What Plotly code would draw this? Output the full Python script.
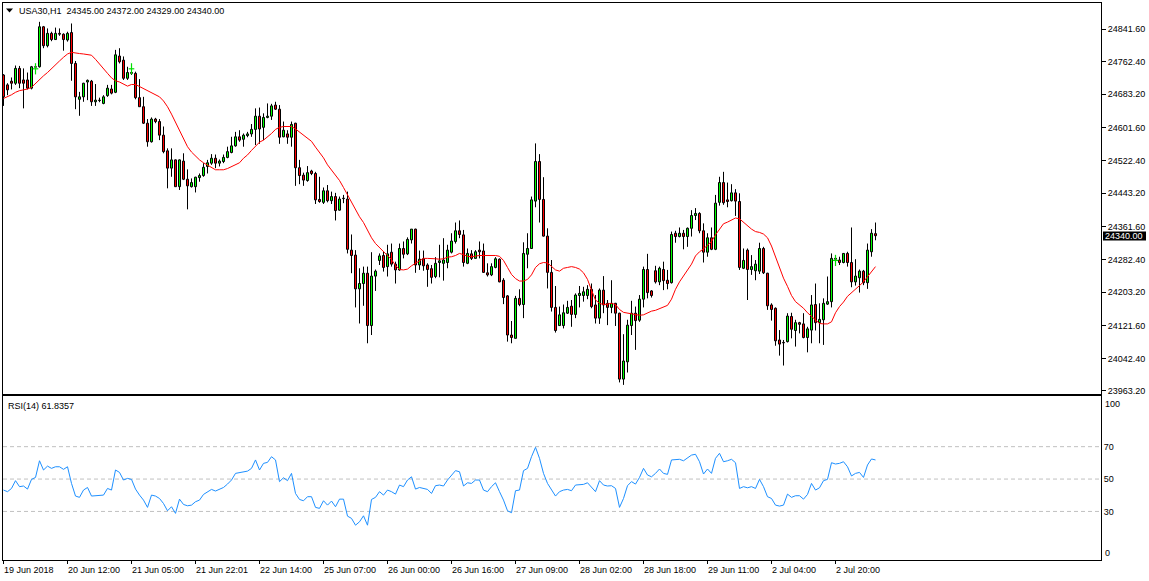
import plotly.graph_objects as go

# ---------------- data (USA30, H1) ----------------
tick_labels = ["19 Jun 2018", "20 Jun 12:00", "21 Jun 05:00", "21 Jun 22:01", "22 Jun 14:00",
               "25 Jun 07:00", "26 Jun 00:00", "26 Jun 16:00", "27 Jun 09:00", "28 Jun 02:00",
               "28 Jun 18:00", "29 Jun 11:00", "2 Jul 04:00", "2 Jul 20:00"]
tick_bars = [0, 16, 32, 48, 64, 80, 96, 112, 128, 144, 160, 176, 192, 208]

opens = [24730,24706,24715,24710,24746,24718,24718,24698,24750,24750,
         24847,24801,24831,24816,24831,24829,24815,24833,24758,24671,
         24677,24713,24715,24665,24669,24661,24680,24696,24688,24776,
         24766,24722,24736,24734,24675,24653,24613,24568,24623,24617,
         24584,24546,24504,24524,24459,24521,24477,24459,24459,24481,
         24486,24508,24516,24528,24516,24520,24530,24542,24558,24580,
         24574,24583,24587,24598,24630,24603,24627,24630,24657,24647,
         24580,24587,24579,24613,24505,24487,24474,24497,24491,24428,
         24421,24449,24425,24435,24402,24431,24429,24305,24293,24211,
         24224,24249,24122,24242,24280,24292,24265,24300,24271,24257,
         24309,24296,24330,24356,24269,24284,24269,24260,24241,24275,
         24273,24275,24300,24326,24352,24342,24273,24296,24285,24305,
         24303,24250,24245,24263,24283,24232,24194,24099,24091,24188,
         24173,24295,24309,24424,24520,24428,24339,24251,24166,24122,
         24122,24152,24169,24149,24195,24195,24195,24210,24172,24140,
         24208,24176,24166,24176,24152,23992,24034,24122,24152,24135,
         24186,24258,24206,24255,24228,24258,24232,24226,24346,24338,
         24346,24338,24358,24389,24394,24352,24300,24335,24307,24421,
         24469,24427,24425,24444,24423,24261,24305,24258,24255,24254,
         24309,24249,24172,24164,24087,24081,24083,24144,24110,24129,
         24126,24093,24111,24173,24129,24136,24174,24180,24285,24281,
         24275,24297,24275,24228,24238,24254,24226,24301,24345]
highs = [24732,24710,24724,24753,24752,24746,24736,24752,24754,24859,
         24849,24843,24835,24845,24843,24831,24835,24855,24764,24689,
         24711,24719,24718,24708,24675,24681,24706,24706,24791,24795,
         24775,24750,24741,24738,24720,24677,24623,24627,24626,24623,
         24605,24552,24552,24525,24525,24540,24501,24479,24483,24491,
         24516,24524,24538,24537,24525,24537,24556,24580,24592,24596,
         24588,24592,24611,24649,24651,24637,24661,24660,24665,24657,
         24617,24596,24617,24614,24524,24493,24509,24500,24495,24483,
         24457,24463,24447,24444,24435,24439,24447,24343,24305,24261,
         24265,24265,24300,24258,24297,24301,24318,24321,24277,24321,
         24326,24336,24356,24357,24304,24304,24273,24269,24288,24318,
         24334,24318,24346,24372,24377,24354,24309,24305,24305,24326,
         24321,24273,24273,24288,24285,24237,24196,24133,24194,24210,
         24324,24346,24435,24564,24538,24482,24358,24281,24218,24168,
         24173,24182,24184,24200,24218,24216,24220,24224,24196,24212,
         24242,24184,24232,24177,24153,24101,24136,24182,24168,24196,
         24265,24296,24208,24267,24265,24277,24257,24350,24352,24360,
         24354,24360,24402,24407,24397,24370,24346,24360,24439,24483,
         24495,24469,24465,24453,24443,24309,24309,24293,24281,24323,
         24313,24250,24176,24166,24111,24087,24152,24153,24136,24131,
         24152,24119,24196,24224,24176,24188,24241,24297,24291,24289,
         24298,24301,24360,24283,24258,24257,24321,24356,24372]
lows = [24655,24681,24695,24706,24698,24649,24695,24695,24742,24748,
        24795,24797,24812,24815,24825,24789,24811,24716,24647,24631,
        24665,24669,24655,24655,24664,24659,24677,24683,24686,24758,
        24718,24718,24730,24671,24653,24611,24556,24566,24613,24572,
        24540,24455,24483,24459,24451,24475,24404,24457,24445,24471,
        24483,24491,24512,24504,24508,24516,24528,24540,24556,24568,
        24556,24579,24580,24560,24563,24572,24625,24621,24645,24563,
        24579,24563,24556,24461,24465,24461,24471,24487,24417,24420,
        24417,24421,24417,24377,24401,24419,24297,24249,24166,24127,
        24170,24079,24099,24206,24269,24253,24241,24265,24224,24255,
        24285,24293,24321,24250,24257,24255,24216,24224,24237,24239,
        24231,24261,24297,24321,24334,24265,24271,24281,24284,24285,
        24250,24241,24242,24261,24227,24174,24083,24079,24091,24169,
        24140,24261,24308,24409,24372,24338,24212,24156,24105,24121,
        24115,24150,24119,24140,24166,24180,24186,24164,24127,24126,
        24152,24123,24152,24121,23984,23978,24008,24099,24063,24131,
        24166,24188,24190,24224,24220,24208,24210,24224,24323,24336,
        24307,24313,24338,24378,24346,24275,24289,24305,24305,24413,
        24415,24409,24423,24388,24257,24259,24184,24245,24232,24247,
        24247,24160,24134,24073,24049,24025,24081,24091,24071,24103,
        24091,24057,24079,24110,24079,24075,24172,24166,24271,24269,
        24273,24265,24215,24219,24202,24220,24211,24289,24329]
closes = [24677,24694,24710,24746,24710,24710,24698,24750,24749,24847,
          24801,24831,24816,24831,24829,24816,24831,24758,24677,24677,
          24710,24717,24665,24669,24668,24677,24698,24686,24779,24762,
          24722,24736,24734,24675,24653,24613,24568,24623,24617,24584,
          24544,24504,24524,24459,24524,24477,24461,24469,24482,24486,
          24506,24517,24528,24516,24521,24530,24544,24558,24580,24572,
          24584,24587,24598,24630,24599,24627,24630,24655,24647,24579,
          24596,24579,24610,24505,24486,24475,24493,24491,24427,24423,
          24449,24425,24435,24401,24429,24430,24307,24292,24211,24224,
          24249,24122,24242,24254,24291,24263,24296,24271,24257,24309,
          24295,24331,24356,24269,24283,24267,24258,24239,24273,24279,
          24281,24305,24327,24352,24343,24275,24297,24285,24301,24301,
          24251,24245,24265,24284,24228,24190,24099,24093,24188,24173,
          24297,24309,24427,24520,24428,24339,24251,24166,24110,24148,
          24153,24166,24149,24196,24200,24204,24210,24168,24140,24208,
          24172,24166,24176,24152,23992,24036,24123,24152,24134,24186,
          24258,24202,24195,24228,24261,24231,24224,24343,24338,24346,
          24338,24358,24389,24394,24352,24300,24335,24307,24419,24469,
          24420,24423,24444,24424,24263,24280,24258,24265,24271,24309,
          24250,24170,24161,24085,24077,24080,24145,24113,24129,24125,
          24093,24114,24172,24129,24137,24176,24180,24285,24283,24275,
          24297,24275,24228,24242,24254,24226,24305,24346,24340]
ma14 = [24673,24677,24682,24688,24692,24694,24696,24700,24710,24720,
        24728,24736,24746,24754,24764,24773,24781,24785,24783,24782,
        24781,24780,24778,24768,24756,24745,24734,24723,24716,24713,
        24707,24703,24707,24707,24702,24697,24691,
        24688,24683,24677,24667,24653,24635,24616,24596,24576,24556,
        24543,24533,24524,24517,24511,24504,24500,24500,24500,24503,
        24508,24513,24517,24528,24536,24547,24558,24567,24572,24579,
        24588,24598,24603,24605,24605,
        24605,24599,24592,24584,24577,24569,24555,24542,24529,24512,
        24500,24486,24474,24457,24439,24420,24402,24386,24372,24352,
        24335,24321,24311,24301,24292,24282,24268,24258,24257,24259,
        24267,24273,24280,24285,24285,
        24285,24284,24283,24284,24288,24289,24292,24297,24294,24290,
        24289,24291,24292,24292,24292,24292,24292,24290,24280,24263,
        24246,24236,24230,24230,24234,24245,24263,24272,24275,24274,
        24266,24257,24254,24261,24263,
        24265,24263,24259,24250,24234,24208,24184,24176,24173,24174,
        24176,24173,24161,24154,24152,24150,24148,24147,24148,24153,
        24157,24159,24163,24168,24171,24186,24210,24228,24242,24255,
        24271,24291,24301,24308,24318,
        24326,24342,24357,24369,24373,24378,24383,24381,24372,24363,
        24356,24350,24348,24344,24335,24315,24289,24263,24237,24217,
        24195,24180,24172,24164,24153,24144,24134,24127,24126,24126,
        24131,
        24153,24168,24179,24193,24201,24210,24219,24228,24241,24253,24265]
rsi14 = [43.2,42.2,44.2,49.0,45.3,45.7,43.8,49.8,51.0,61.3,
         55.6,58.0,56.6,57.6,57.6,56.0,57.6,47.3,39.5,38.7,
         43.2,44.8,39.5,39.7,39.7,40.1,44.2,43.2,55.6,54.1,
         49.4,50.4,49.8,43.8,40.1,37.0,32.5,40.1,39.5,38.0,
         34.9,30.4,32.9,28.8,37.6,34.3,33.5,33.9,36.0,37.0,
         40.5,42.2,43.6,42.6,43.8,44.8,46.9,49.4,53.5,53.9,
         54.3,54.9,56.6,61.8,55.6,59.7,60.3,63.8,61.8,48.4,
         50.8,49.0,53.5,41.1,37.4,36.6,39.1,39.1,32.5,31.9,
         36.6,33.9,36.4,32.9,37.6,37.6,27.1,25.7,21.5,23.6,
         27.3,21.5,37.4,38.7,42.2,40.1,43.2,42.2,40.7,46.3,
         45.3,49.4,51.4,43.8,44.8,44.2,43.6,41.1,45.9,46.3,
         45.7,49.4,52.5,55.2,54.5,45.7,47.7,47.3,49.4,49.4,
         43.2,42.2,45.3,47.7,42.2,37.0,30.4,29.2,42.8,43.2,
         55.2,56.6,63.8,69.6,62.8,53.5,47.3,43.2,39.5,42.2,
         43.2,43.6,42.8,46.3,46.7,46.7,47.7,44.8,42.2,49.0,
         46.3,45.7,45.9,44.2,32.5,38.0,45.9,48.4,46.9,51.0,
         56.6,52.5,51.4,53.5,56.2,53.5,52.9,61.8,61.8,62.2,
         61.3,62.8,64.8,65.3,60.7,53.1,56.2,53.5,62.8,65.9,
         60.7,61.3,62.2,60.1,44.2,45.3,44.6,45.3,44.2,49.8,
         45.3,39.1,38.0,33.9,33.3,33.9,40.7,38.7,39.7,39.7,
         37.6,40.5,47.3,43.2,44.6,49.0,49.8,60.1,59.3,59.7,
         60.7,57.6,51.9,53.5,54.1,51.0,58.7,62.4,61.8]
trade_bars = [8, 32, 208]
trade_prices = [24745, 24745, 24280]
price_ticks = [24841.6, 24762.4, 24683.2, 24601.6, 24522.4, 24443.2,
               24361.6, 24282.4, 24203.2, 24121.6, 24042.4, 23963.2]
rsi_levels = [30, 50, 70]
last_price = 24340.00

bars = list(range(len(closes)))

# candle geometry built from the OHLC arrays
body_lo = [min(o, c) for o, c in zip(opens, closes)]
body_hi = [max(o, c) for o, c in zip(opens, closes)]
body_h = [max(h - l, 1) for h, l in zip(body_hi, body_lo)]
body_col = ["#00ff00" if c > o else "#ff0000" for o, c in zip(opens, closes)]
wick_x, wick_y = [], []
for i, h, l, bh, bl in zip(bars, highs, lows, body_hi, body_lo):
    wick_x += [i, i, None, i, i, None]
    wick_y += [h, bh, None, bl, l, None]

# ---------------- geometry ----------------
W, H = 1149, 581
ML, MR, MT, MB = 3, 48, 3, 21
PW, PH = W - ML - MR, H - MT - MB
def fy(py):   # pixel row -> paper fraction
    return (H - MB - py) / PH
def fx(px):   # pixel col -> paper fraction
    return (px - ML) / PW

FONT = "Liberation Sans, Arial, sans-serif"
XR = [-0.125, -0.125 + PW / 4.0]

fig = go.Figure()
fig.add_trace(go.Scatter(x=wick_x, y=wick_y, mode="lines", hoverinfo="skip", connectgaps=False,
                         line=dict(color="black", width=1), xaxis="x", yaxis="y"))
fig.add_trace(go.Bar(x=bars, y=body_h, base=body_lo, width=0.5, hoverinfo="skip",
                     marker=dict(color=body_col, line=dict(color="black", width=1)),
                     xaxis="x", yaxis="y"))
fig.add_trace(go.Scatter(x=bars, y=ma14, mode="lines", hoverinfo="skip",
                         line=dict(color="#ff0000", width=1), xaxis="x", yaxis="y"))
fig.add_trace(go.Scatter(x=trade_bars, y=trade_prices, mode="markers", hoverinfo="skip",
                         marker=dict(symbol="line-ns", size=8, line=dict(color="#00e000", width=1.2)),
                         xaxis="x", yaxis="y"))
fig.add_trace(go.Scatter(x=trade_bars, y=trade_prices, mode="markers", hoverinfo="skip",
                         marker=dict(symbol="line-ew", size=4, line=dict(color="#00e000", width=1.2)),
                         xaxis="x", yaxis="y"))
fig.add_trace(go.Scatter(x=bars, y=rsi14, mode="lines", hoverinfo="skip",
                         line=dict(color="#1e90ff", width=1), xaxis="x2", yaxis="y2"))

axis_common = dict(showline=True, mirror=True, linecolor="black", linewidth=1,
                   showgrid=False, zeroline=False, fixedrange=True)
fig.update_layout(
    width=W, height=H, margin=dict(l=ML, r=MR, t=MT, b=MB, autoexpand=False),
    paper_bgcolor="white", plot_bgcolor="white", showlegend=False, bargap=0,
    xaxis=dict(domain=[0, 1], range=XR, anchor="y", showticklabels=False, ticks="", **axis_common),
    yaxis=dict(domain=[fy(394), 1], range=[23955.9, 24904.7], side="right", anchor="x",
               tickvals=price_ticks, tickformat=".2f", ticks="outside", ticklen=4,
               tickcolor="black", tickfont=dict(family=FONT, size=9, color="black"), **axis_common),
    xaxis2=dict(domain=[0, 1], range=XR, anchor="y2", showticklabels=False,
                ticks="outside", ticklen=3, tickcolor="black", tickvals=tick_bars, **axis_common),
    yaxis2=dict(domain=[0, fy(396)], range=[0, 101.3], side="right", anchor="x2",
                tickvals=rsi_levels, ticks="", tickfont=dict(family=FONT, size=9, color="black"),
                **axis_common),
)

shapes = []
for lv in rsi_levels:
    shapes.append(dict(type="line", xref="x2 domain", yref="y2", x0=0, x1=1, y0=lv, y1=lv,
                       line=dict(color="#c0c0c0", width=1, dash="4px,3px"), layer="below"))
shapes.append(dict(type="rect", xref="paper", yref="paper", x0=fx(1103), x1=fx(1146),
                   y0=fy(240.5), y1=fy(231.5), fillcolor="black", line=dict(width=0)))
shapes.append(dict(type="path", xref="paper", yref="paper",
                   path="M {} {} L {} {} L {} {} Z".format(fx(6), fy(8.5), fx(13), fy(8.5), fx(9.5), fy(12.5)),
                   fillcolor="black", line=dict(width=0)))
fig.update_layout(shapes=shapes)

ann = []
ann.append(dict(text="USA30,H1 \u00a024345.00 24372.00 24329.00 24340.00", xref="paper", yref="paper",
                x=fx(17), y=fy(10.7), xanchor="left", yanchor="middle", showarrow=False,
                font=dict(family=FONT, size=9, color="black")))
ann.append(dict(text="RSI(14) 61.8357", xref="paper", yref="paper",
                x=fx(6), y=fy(405.5), xanchor="left", yanchor="middle", showarrow=False,
                font=dict(family=FONT, size=9, color="black")))
ann.append(dict(text="{:.2f}".format(last_price), xref="paper", yref="paper",
                x=fx(1103), y=fy(236), xanchor="left", yanchor="middle", showarrow=False,
                font=dict(family=FONT, size=9, color="white")))
ann.append(dict(text="100", xref="paper", yref="paper", x=fx(1103), y=fy(404),
                xanchor="left", yanchor="middle", showarrow=False,
                font=dict(family=FONT, size=9, color="black")))
ann.append(dict(text="0", xref="paper", yref="paper", x=fx(1103), y=fy(553.3),
                xanchor="left", yanchor="middle", showarrow=False,
                font=dict(family=FONT, size=9, color="black")))
for b, lab in zip(tick_bars, tick_labels):
    ann.append(dict(text=lab, xref="x2", yref="paper", x=b, y=fy(570), xanchor="left",
                    yanchor="middle", xshift=-2, showarrow=False,
                    font=dict(family=FONT, size=9, color="black")))
fig.update_layout(annotations=ann)

fig.write_html("out.html", config={"displayModeBar": False, "staticPlot": True},
               post_script="document.body.style.margin='0px';")
